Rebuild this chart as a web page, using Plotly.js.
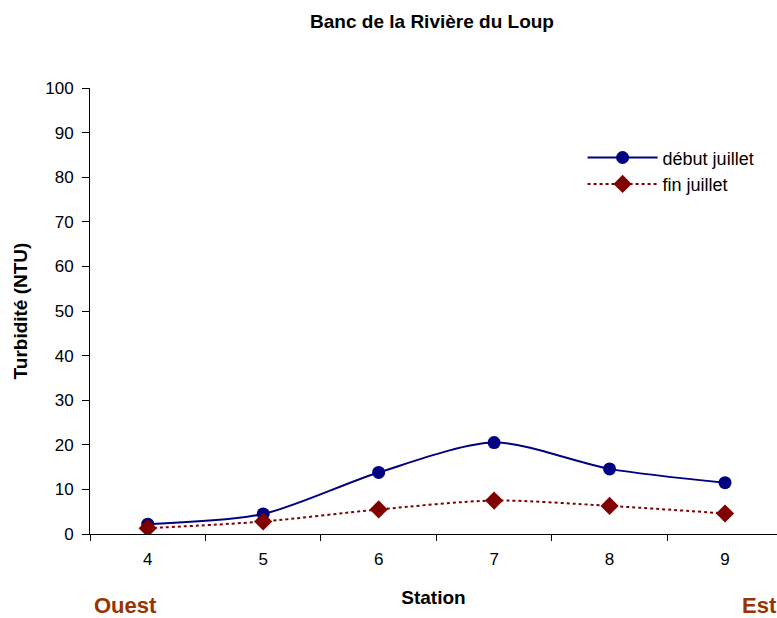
<!DOCTYPE html>
<html><head><meta charset="utf-8">
<script src="https://cdn.plot.ly/plotly-3.0.1.min.js"></script>
<style>html,body{margin:0;padding:0;background:#fff}#chart{width:777px;height:618px}</style>
</head><body><div id="chart"></div>
<script>
const stations = ["4","5","6","7","8","9"];
const debutJuillet = [2.2, 4.5, 13.8, 20.5, 14.6, 11.5];
const finJuillet = [1.3, 2.8, 5.5, 7.5, 6.3, 4.6];
const yTicks = [0,10,20,30,40,50,60,70,80,90,100];

const fam = "Liberation Sans, Arial, sans-serif";
const f = (size, color) => ({family: fam, size: size, color: color || "#000"});
const traces = [
  {x: stations, y: debutJuillet, name: "début juillet", type: "scatter", mode: "lines+markers",
   legendgroup: "a",
   line: {color: "#000080", width: 2, shape: "spline", smoothing: 0.8},
   marker: {symbol: "circle", size: 13, color: "#000080"}},
  {x: stations, y: finJuillet, name: "fin juillet", type: "scatter", mode: "lines+markers",
   legendgroup: "b",
   line: {color: "#800000", width: 2, dash: "dot", shape: "spline", smoothing: 0.8},
   marker: {symbol: "diamond", size: 14, color: "#800000"}}
];
const layout = {
  width: 777, height: 618,
  margin: {l: 90, r: 0, t: 88, b: 84},
  paper_bgcolor: "#fff", plot_bgcolor: "#fff",
  font: f(17),
  title: {text: "<b>Banc de la Rivière du Loup</b>", font: f(19),
          x: 0.556, xanchor: "center", y: 0.966, yanchor: "middle"},
  xaxis: {type: "category", range: [-0.5, 5.45], tickson: "boundaries",
          ticks: "outside", ticklen: 6, tickcolor: "#000", showline: true, linecolor: "#000", linewidth: 1,
          showgrid: false, zeroline: false, tickfont: f(17), ticklabelstandoff: 10,
          title: {text: "<b>Station</b>", font: f(19), standoff: 22}},
  yaxis: {range: [0, 100], tickvals: yTicks, ticks: "outside", ticklen: 7, tickcolor: "#000",
          showline: true, linecolor: "#000", linewidth: 1, showgrid: false, zeroline: false,
          tickfont: f(17), ticklabelstandoff: 5,
          title: {text: "<b>Turbidité (NTU)</b>", font: f(19), standoff: 12}},
  legend: {x: 0.717, y: 0.885, xanchor: "left", yanchor: "top", bgcolor: "rgba(0,0,0,0)",
           font: f(18), itemwidth: 70, tracegroupgap: 0},
  showlegend: true,
  annotations: [
    {text: "<b>Ouest</b>", xref: "paper", yref: "paper", x: 0.0524, y: -0.161, showarrow: false,
     xanchor: "center", yanchor: "middle", font: f(22, "#993300")},
    {text: "<b>Est</b>", xref: "paper", yref: "paper", x: 0.975, y: -0.161, showarrow: false,
     xanchor: "center", yanchor: "middle", font: f(22, "#993300")}
  ]
};
Plotly.newPlot("chart", traces, layout, {displayModeBar: false, staticPlot: true});
</script></body></html>
